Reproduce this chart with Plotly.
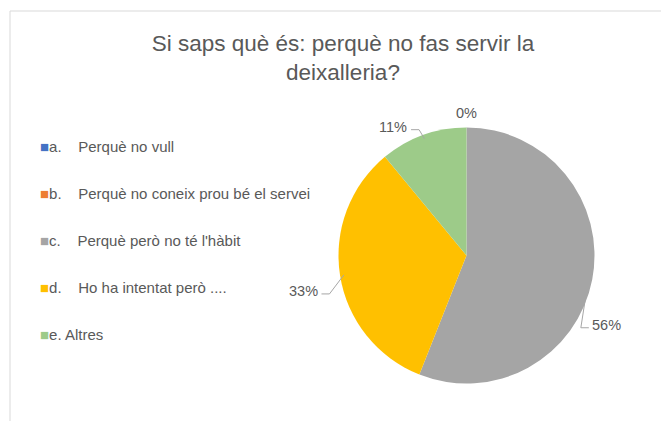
"""Pie chart: Si saps què és: perquè no fas servir la deixalleria? (Plotly)."""

import math

import plotly.graph_objects as go

# --- data -------------------------------------------------------------------
CATEGORIES = [
    "a.  Perquè no vull",
    "b.  Perquè no coneix prou bé el servei",
    "c.  Perquè però no té l'hàbit",
    "d.  Ho ha intentat però ....",
    "e. Altres",
]
PERCENTS = [0, 0, 56, 33, 11]
COLORS = ["#4472C4", "#ED7D31", "#A5A5A5", "#FFC000", "#9DCB89"]

# --- layout constants ---------------------------------------------------------
PAGE_W, PAGE_H = 669, 421
PAD = 8                                 # default body margin of the html page
W, H = PAGE_W - PAD, PAGE_H - PAD
CX, CY, R = 466.5, 255.5, 128          # pie centre / radius in page px
TEXT = "#595959"
FONT = "Liberation Sans"
LABEL_SIZE = 14.5
# label offset (px) from the slice edge at mid-angle, per slice
LABEL_OFFSETS = [(0, -18), (0, -18), (18, 46), (-40, 16), (-31, -12)]


def px(x, y):
    """page pixel -> paper coords"""
    return (x - PAD) / W, 1 - (y - PAD) / H


fig = go.Figure()
fig.add_trace(go.Pie(
    labels=CATEGORIES,
    values=PERCENTS,
    marker=dict(colors=COLORS, line=dict(width=0)),
    sort=False,
    direction="clockwise",
    rotation=0,
    textinfo="none",
    hoverinfo="label+percent",
    showlegend=False,
    domain=dict(x=[px(CX - R, 0)[0], px(CX + R, 0)[0]],
                y=[px(0, CY + R)[1], px(0, CY - R)[1]]),
))

# data labels with elbow leader lines, placed from the cumulative angles
total = sum(PERCENTS)
start = 0.0
annotations = []
seen = set()
for val, (ox, oy) in zip(PERCENTS, LABEL_OFFSETS):
    mid = (start + val / 2) / total * 2 * math.pi
    start += val
    ex, ey = CX + R * 0.97 * math.sin(mid), CY - R * 0.97 * math.cos(mid)
    lx, ly = ex + ox, ey + oy
    if (round(lx), round(ly)) in seen:
        continue
    seen.add((round(lx), round(ly)))
    text = f"{val}%"
    x, y = px(lx, ly)
    annotations.append(dict(x=x, y=y, xref="paper", yref="paper",
                            xanchor="center", yanchor="middle",
                            text=text, showarrow=False,
                            font=dict(family=FONT, size=LABEL_SIZE, color=TEXT)))
    if val > 0:
        side = 1 if lx > ex else -1
        hw = 0.29 * LABEL_SIZE * len(text)
        kx = lx - side * (hw + 13)
        pts = [px(ex, ey), px(kx, ly + 3), px(lx - side * (hw + 5), ly + 3)]
        path = "M " + " L ".join(f"{a},{b}" for a, b in pts)
        fig.add_shape(type="path", xref="paper", yref="paper", path=path,
                      line=dict(color="#A6A6A6", width=1))

# legend on the left
for i, (cat, col) in enumerate(zip(CATEGORIES, COLORS)):
    x, y = px(38, 147 + i * 46.8)
    label = cat.replace("  ", "&nbsp;&nbsp;&nbsp;&nbsp;")
    annotations.append(dict(
        x=x, y=y, xref="paper", yref="paper", xanchor="left", yanchor="middle",
        text=f"<span style='color:{col}'>■</span>{label}",
        showarrow=False, font=dict(family=FONT, size=15, color=TEXT),
    ))

x0, y0 = px(10, 11)
fig.add_shape(type="rect", xref="paper", yref="paper",
              x0=x0, y0=-0.02, x1=1.02, y1=y0,
              line=dict(color="#D9D9D9", width=1), fillcolor="rgba(0,0,0,0)")

tx, ty = px(343, 51)
fig.update_layout(
    width=W, height=H,
    margin=dict(l=0, r=0, t=0, b=0),
    paper_bgcolor="white",
    plot_bgcolor="white",
    title=dict(
        text="Si saps què és: perquè no fas servir la<br>deixalleria?",
        x=tx, y=ty, xanchor="center", yanchor="middle",
        font=dict(family=FONT, size=22.5, color=TEXT),
    ),
    annotations=annotations,
)

fig.write_html("out.html")
